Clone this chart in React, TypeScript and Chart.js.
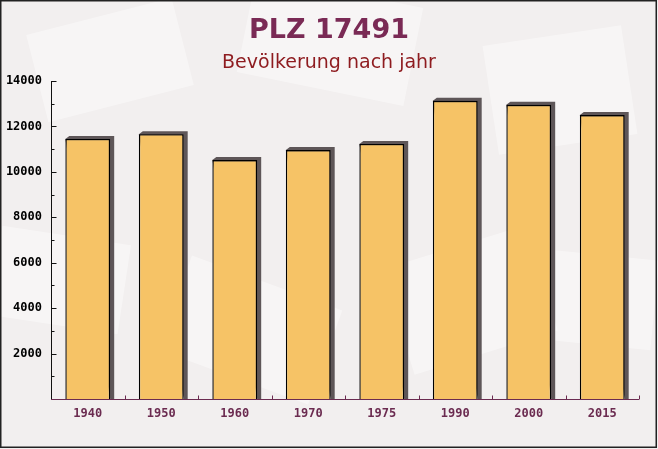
import React, { useEffect, useRef } from "react";
import { Chart, registerables } from "chart.js";

Chart.register(...registerables);

const titleText = "PLZ 17491";
const subtitleText = "Bevölkerung nach jahr";
const years = ["1940", "1950", "1960", "1970", "1975", "1990", "2000", "2015"];
const population = [11450, 11660, 10520, 10960, 11230, 13130, 12950, 12500];
const yTicks = [2000, 4000, 6000, 8000, 10000, 12000, 14000];

const W = 658;
const H = 449;

const decorPlugin = {
  id: "decor",
  beforeDraw(chart: any) {
    const ctx = chart.ctx;
    ctx.save();
    ctx.fillStyle = "#f2efef";
    ctx.fillRect(0, 0, W, H);
    // faint background shapes
    ctx.fillStyle = "rgba(255,255,255,0.4)";
    const shapes = [
      [110, 60, 150, 90, -0.25],
      [330, 40, 170, 100, 0.2],
      [560, 90, 140, 110, -0.15],
      [250, 330, 160, 100, 0.35],
      [470, 300, 150, 110, -0.3],
      [60, 280, 130, 90, 0.15],
      [600, 300, 110, 90, 0.1],
    ];
    for (const [x, y, w, h, r] of shapes) {
      ctx.save();
      ctx.translate(x, y);
      ctx.rotate(r);
      ctx.fillRect(-w / 2, -h / 2, w, h);
      ctx.restore();
    }
    // titles
    ctx.textAlign = "center";
    ctx.textBaseline = "alphabetic";
    ctx.fillStyle = "#7a2a55";
    ctx.font = "bold 27px 'DejaVu Sans', sans-serif";
    ctx.fillText(titleText, 329, 38);
    ctx.fillStyle = "#8e1b1f";
    ctx.font = "19px 'DejaVu Sans', sans-serif";
    ctx.fillText(subtitleText, 329, 68);
    ctx.restore();
  },
  beforeDatasetsDraw(chart: any) {
    const ctx = chart.ctx;
    const meta = chart.getDatasetMeta(0);
    ctx.save();
    ctx.fillStyle = "#5e5658";
    const dx = 4;
    const dy = 3;
    for (const el of meta.data) {
      const left = el.x - el.width / 2;
      const right = el.x + el.width / 2;
      const top = el.y;
      const base = el.base;
      ctx.beginPath();
      ctx.moveTo(left, top);
      ctx.lineTo(left + dx, top - dy);
      ctx.lineTo(right + dx, top - dy);
      ctx.lineTo(right + dx, base);
      ctx.lineTo(right, base);
      ctx.closePath();
      ctx.fill();
    }
    ctx.restore();
  },
  afterDraw(chart: any) {
    const ctx = chart.ctx;
    const area = chart.chartArea;
    const ys = chart.scales.y;
    ctx.save();
    // y axis line
    ctx.strokeStyle = "#111";
    ctx.lineWidth = 1;
    const ax = Math.round(area.left) + 0.5;
    ctx.beginPath();
    ctx.moveTo(ax, area.top);
    ctx.lineTo(ax, area.bottom);
    ctx.stroke();
    // y ticks (inside)
    for (let v = 1000; v <= 14000; v += 1000) {
      const py = Math.round(ys.getPixelForValue(v)) + 0.5;
      const len = v % 2000 === 0 ? 5 : 3;
      ctx.beginPath();
      ctx.moveTo(ax, py);
      ctx.lineTo(ax + len, py);
      ctx.stroke();
    }
    // x axis line
    ctx.strokeStyle = "#6b2b50";
    const by = Math.round(area.bottom) + 0.5;
    ctx.beginPath();
    ctx.moveTo(area.left, by);
    ctx.lineTo(area.right, by);
    ctx.stroke();
    const n = years.length;
    const step = (area.right - area.left) / n;
    for (let i = 1; i <= n; i++) {
      const px = Math.round(area.left + step * i) + 0.5;
      ctx.beginPath();
      ctx.moveTo(px, by);
      ctx.lineTo(px, by - 4);
      ctx.stroke();
    }
    // frame
    ctx.strokeStyle = "#222";
    ctx.lineWidth = 1.5;
    ctx.strokeRect(0.75, 0.75, W - 2.5, H - 2.5);
    ctx.restore();
  },
};

export default function App() {
  const ref = useRef<HTMLCanvasElement | null>(null);
  useEffect(() => {
    document.body.style.margin = "0";
    const canvas = ref.current!;
    const chart = new Chart(canvas, {
      type: "bar",
      data: {
        labels: years,
        datasets: [
          {
            data: population,
            backgroundColor: "#f6c366",
            borderColor: "#000",
            borderWidth: 1.4,
            borderSkipped: "bottom",
            barPercentage: 0.61,
            categoryPercentage: 1,
          },
        ],
      },
      options: {
        animation: false,
        responsive: false,
        devicePixelRatio: 1,
        layout: { padding: { top: 81, right: 19, left: 0, bottom: 0 } },
        plugins: {
          legend: { display: false },
          tooltip: { enabled: false },
          title: { display: false },
        },
        scales: {
          x: {
            offset: true,
            grid: { display: false },
            border: { display: false },
            ticks: {
              color: "#6b2b50",
              font: { family: "'DejaVu Sans Mono', monospace", weight: "bold", size: 12 },
              padding: 0,
              maxRotation: 0,
            },
            afterFit: (s: any) => {
              s.height = 50;
            },
          },
          y: {
            min: 0,
            max: 14000,
            afterBuildTicks: (s: any) => {
              s.ticks = yTicks.map((v) => ({ value: v }));
            },
            grid: { display: false },
            border: { display: false },
            ticks: {
              color: "#000",
              font: { family: "'DejaVu Sans Mono', monospace", weight: "bold", size: 12 },
              padding: 1,
              callback: (v: any) => String(v),
            },
            afterFit: (s: any) => {
              s.width = 51;
            },
          },
        },
      },
      plugins: [decorPlugin],
    });
    return () => chart.destroy();
  }, []);
  return (
    <div style={{ width: W, height: H }}>
      <canvas ref={ref} width={W} height={H} style={{ display: "block", width: W, height: H }} />
    </div>
  );
}
